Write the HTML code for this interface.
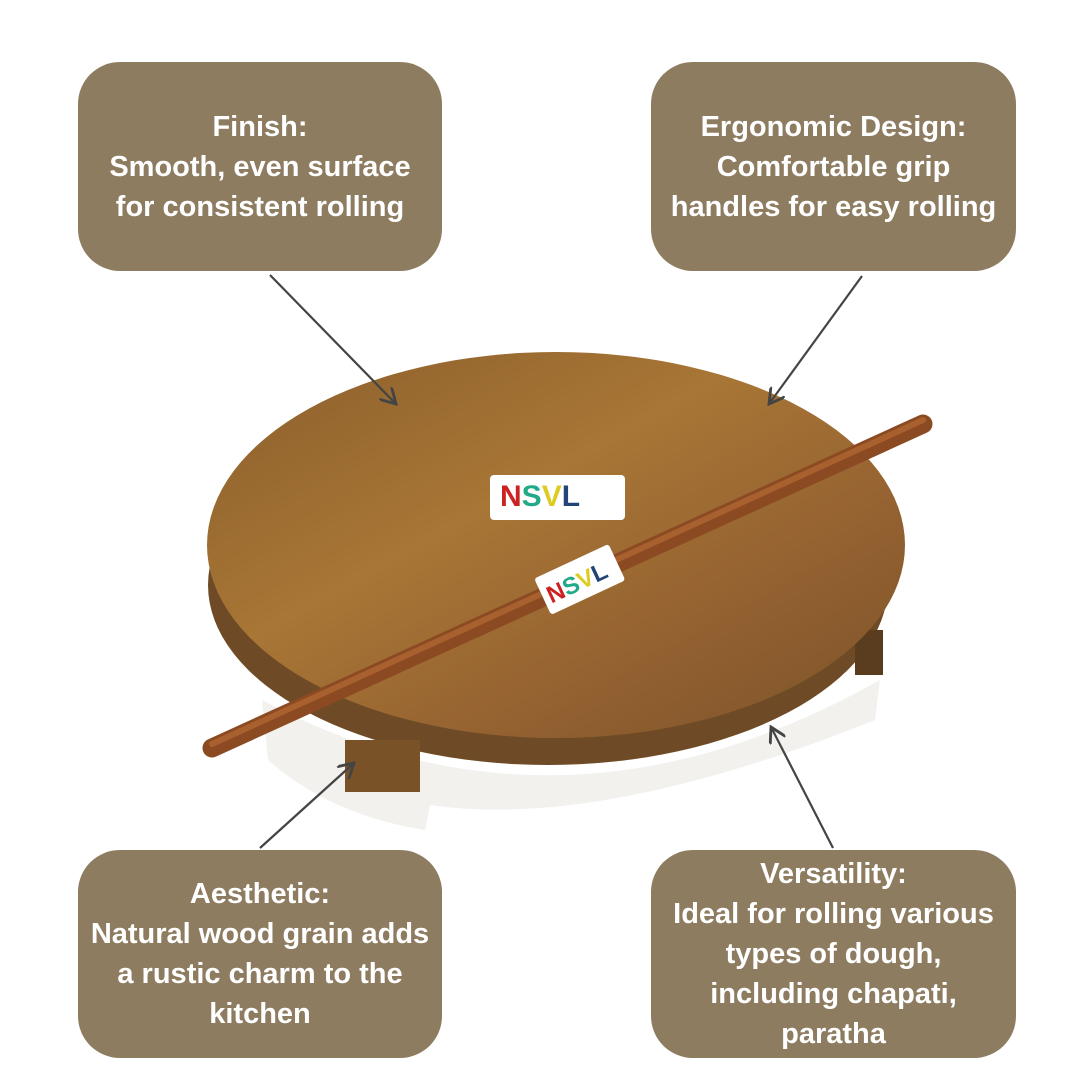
<!DOCTYPE html>
<html><head><style>
body{margin:0;width:1080px;height:1080px;background:#fff;overflow:hidden;position:relative;font-family:"Liberation Sans",sans-serif}
.b{position:absolute;background:#8e7c61;border-radius:42px;color:#fff;font-weight:bold;font-size:29px;line-height:40px;text-align:center;display:flex;flex-direction:column;justify-content:center;white-space:nowrap}
svg{position:absolute;left:0;top:0}
</style></head><body>
<svg width="1080" height="1080">
<defs>
<linearGradient id="w" x1="0" y1="0" x2="1" y2="1">
<stop offset="0" stop-color="#8a5e2c"/><stop offset="0.4" stop-color="#a87635"/><stop offset="0.7" stop-color="#946131"/><stop offset="1" stop-color="#7a5228"/></linearGradient>
<marker id="a" markerWidth="8" markerHeight="8" refX="7" refY="4" orient="auto" markerUnits="strokeWidth"><path d="M0,0 L7,4 L0,8" fill="none" stroke="#444" stroke-width="1.3"/></marker>
</defs>
<path d="M262,700 Q560,860 880,680 L875,720 Q600,830 430,805 L425,830 Q330,815 268,760 Z" fill="#f2f1ee"/>
<ellipse cx="548" cy="585" rx="340" ry="180" fill="#6e4b26"/>
<rect x="345" y="740" width="75" height="52" fill="#7a5228"/>
<rect x="855" y="630" width="28" height="45" fill="#5a3d1e"/>
<ellipse cx="556" cy="545" rx="349" ry="193" fill="url(#w)"/>
<line x1="212" y1="748" x2="923" y2="424" stroke="#8b4a22" stroke-width="19" stroke-linecap="round"/>
<line x1="212" y1="744" x2="923" y2="420" stroke="#a8602e" stroke-width="6" stroke-linecap="round"/>
<rect x="490" y="475" width="135" height="45" fill="#fff" rx="4"/>
<text x="500" y="506" font-family="Liberation Sans" font-weight="bold" font-size="30" fill="#c22">N<tspan fill="#2a8">S</tspan><tspan fill="#dc2">V</tspan><tspan fill="#247">L</tspan></text>
<g transform="rotate(-25 578 578)"><rect x="538" y="560" width="82" height="40" fill="#fff" rx="3"/>
<text x="543" y="590" font-family="Liberation Sans" font-weight="bold" font-size="24" fill="#c22">N<tspan fill="#2a8">S</tspan><tspan fill="#dc2">V</tspan><tspan fill="#247">L</tspan></text></g>
<g stroke="#444" stroke-width="2.2" fill="none">
<line x1="270" y1="275" x2="396" y2="404" marker-end="url(#a)"/>
<line x1="862" y1="276" x2="769" y2="404" marker-end="url(#a)"/>
<line x1="260" y1="848" x2="354" y2="763" marker-end="url(#a)"/>
<line x1="833" y1="848" x2="771" y2="727" marker-end="url(#a)"/>
</g>
</svg>
<div class="b" style="left:78px;top:62px;width:364px;height:209px">Finish:<br>Smooth, even surface<br>for consistent rolling</div>
<div class="b" style="left:651px;top:62px;width:365px;height:209px">Ergonomic Design:<br>Comfortable grip<br>handles for easy rolling</div>
<div class="b" style="left:78px;top:850px;width:364px;height:208px">Aesthetic:<br>Natural wood grain adds<br>a rustic charm to the<br>kitchen</div>
<div class="b" style="left:651px;top:850px;width:365px;height:208px">Versatility:<br>Ideal for rolling various<br>types of dough,<br>including chapati,<br>paratha</div>
</body></html>
